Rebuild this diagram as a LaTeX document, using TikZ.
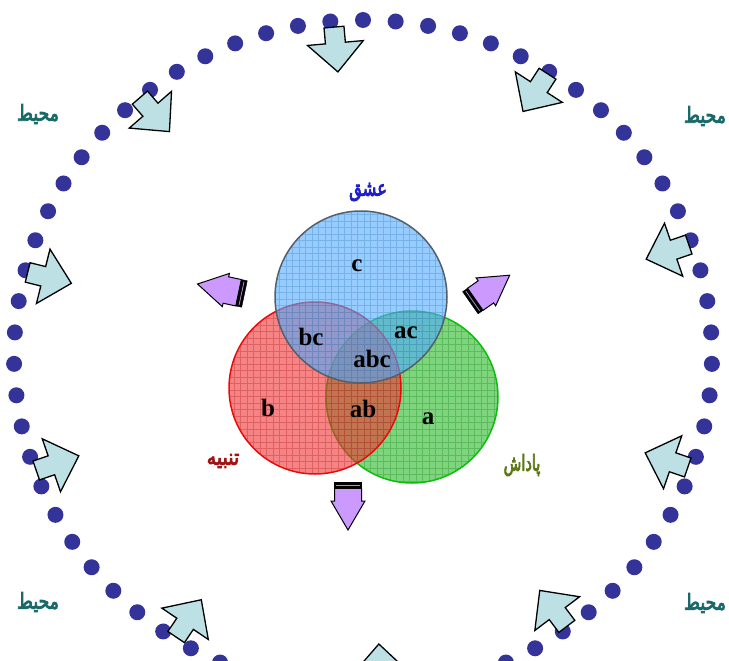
\documentclass[tikz,border=0pt]{standalone}
\usepackage{fontspec}
\setmainfont{Liberation Serif}
\newfontfamily\arabicfont[Script=Arabic, FakeBold=4]{DejaVu Sans}
\TeXXeTstate=1

\definecolor{ringdot}{RGB}{51,51,153}
\definecolor{envfill}{RGB}{188,224,228}
\definecolor{outfill}{RGB}{204,153,255}
\definecolor{lovefill}{RGB}{80,170,255}
\definecolor{loveline}{RGB}{85,95,105}
\definecolor{punfill}{RGB}{240,50,50}
\definecolor{punline}{RGB}{235,10,10}
\definecolor{rewfill}{RGB}{40,185,40}
\definecolor{rewline}{RGB}{10,190,10}
\definecolor{lovetext}{RGB}{30,30,200}
\definecolor{puntext}{RGB}{160,20,20}
\definecolor{rewtext}{RGB}{90,120,20}
\definecolor{envtext}{RGB}{25,105,105}

\tikzset{
  envarrow/.pic={\draw[fill=envfill, line width=1.3pt, line join=miter]
    (22,0) -- (-7,28) -- (-7,10) -- (-23,10) -- (-23,-10) -- (-7,-10) -- (-7,-28) -- cycle;},
  outarrow/.pic={
    \draw[fill=outfill, line width=1pt, line join=miter]
      (24,0) -- (-5,17) -- (-5,13.5) -- (-18,13.5) -- (-18,-13.5) -- (-5,-13.5) -- (-5,-17) -- cycle;
    \draw[fill=black] (-24,13.5) rectangle (-18,-13.5);
    \draw[outfill!60!gray, line width=0.8pt] (-21,12) -- (-21,-12);},
  word/.style={font=\arabicfont\fontsize{22}{22}\selectfont},
  setlabel/.style={anchor=base, font=\bfseries\fontsize{25}{25}\selectfont}
}

\begin{document}
\begin{tikzpicture}[x=1pt, y=-1pt]
  \clip (0,0) rectangle (729,661);
  % ring of dots (environment), 67 dots
  \foreach \t in {0,...,66}
    \fill[ringdot] ({363+349*cos(90+\t*5.3731)}, {356-336*sin(90+\t*5.3731)}) circle (8);

  % venn sets: reward (a), punishment (b), love (c), filled and gridded
  \foreach \cx/\cy/\col/\edge in {412/397/rewfill/rewline, 315/388/punfill/punline, 361/297/lovefill/loveline} {
    \begin{scope}
      \clip (\cx,\cy) circle (86);
      \fill[\col, fill opacity=0.6] (\cx,\cy) circle (86);
      \draw[\col!75!black, opacity=0.35, line width=0.6pt, step=6.5pt] (\cx-90,\cy-90) grid (\cx+90,\cy+90);
    \end{scope}
    \draw[\edge, line width=1.5pt] (\cx,\cy) circle (86);
  }

  \node[setlabel] (c) at (357,271) {c};
  \node[setlabel] (bc) at (311,345) {bc};
  \node[setlabel] (ac) at (406,338) {ac};
  \node[setlabel] (abc) at (372,367) {abc};
  \node[setlabel] (b) at (268,416) {b};
  \node[setlabel] (ab) at (363,417) {ab};
  \node[setlabel] (a) at (428,424) {a};

  \node[word, text=lovetext] (love) at (368,192) {\scalebox{0.74}[1]{\beginR عشق\endR}};
  \node[word, text=puntext] (punish) at (223,461) {\scalebox{0.86}[1]{\beginR تنبيه\endR}};
  \node[word, text=rewtext] (reward) at (522,465) {\scalebox{0.66}[1]{\beginR پاداش\endR}};

  % arrows out of the sets
  \pic[rotate=-90] at (348,506) {outarrow};
  \pic[rotate=168] at (221,289) {outarrow};
  \pic[rotate=35] at (490,289) {outarrow};

  % arrows in from the environment
  \foreach \x/\y/\a in {336/50/-85, 535/93/-123, 667/252/-161, 666/460/161, 553/608/127,
                        380/666/93, 189/618/56, 58/463/19, 50/278/-14, 155/115/-49}
    \pic[rotate=\a] at (\x,\y) {envarrow};

  \node[word, text=envtext] (envnw) at (38,114) {\scalebox{0.78}[1]{\beginR محيط\endR}};
  \node[word, text=envtext] (envne) at (705,116) {\scalebox{0.78}[1]{\beginR محيط\endR}};
  \node[word, text=envtext] (envsw) at (38,602) {\scalebox{0.78}[1]{\beginR محيط\endR}};
  \node[word, text=envtext] (envse) at (705,603) {\scalebox{0.78}[1]{\beginR محيط\endR}};
\end{tikzpicture}
\end{document}
